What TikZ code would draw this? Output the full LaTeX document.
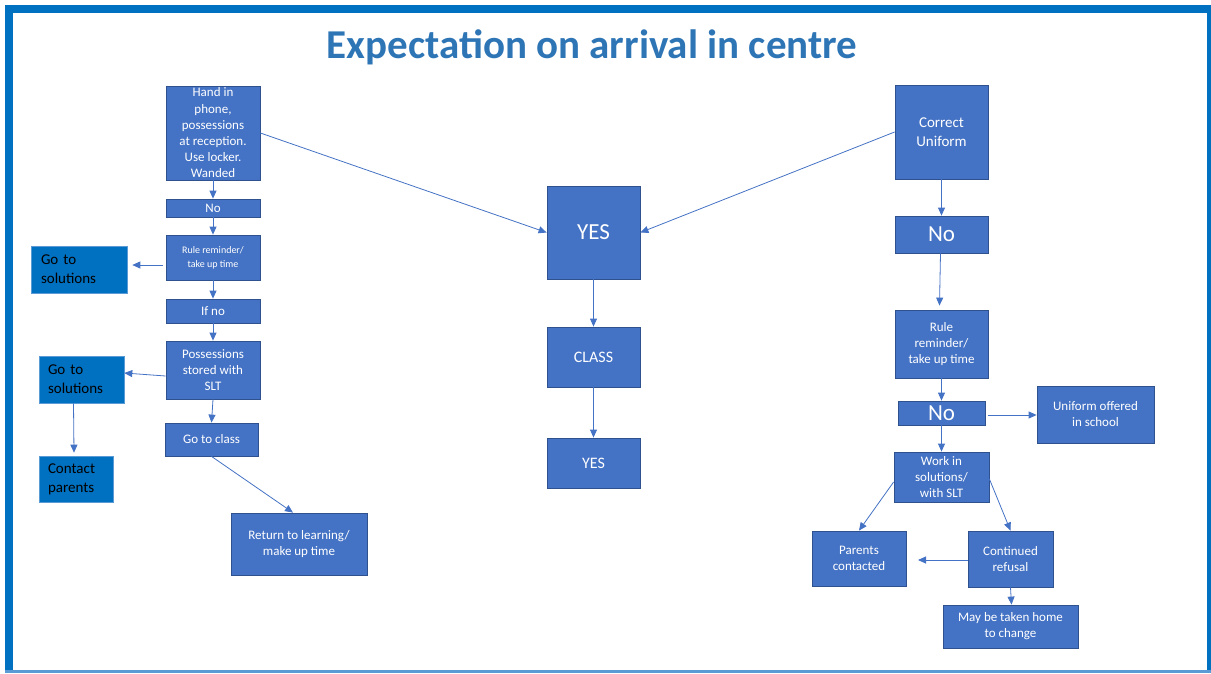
\documentclass[tikz,border=0pt]{standalone}
\usepackage{fontspec}
\setmainfont{Carlito}
\usetikzlibrary{arrows.meta}
\definecolor{boxblue}{HTML}{4472C4}
\definecolor{boxedge}{HTML}{2F528F}
\definecolor{darkblue}{HTML}{0070C0}
\definecolor{titleblue}{HTML}{2E75B6}
\definecolor{frameblue}{HTML}{0070C0}
\definecolor{lightedge}{HTML}{5B9BD5}
\newcommand\fsz[2]{\fontsize{#1pt}{#2pt}\selectfont}
\tikzset{
  box/.style={draw=boxedge, line width=0.8pt, fill=boxblue, text=white, inner sep=0pt, align=center},
  solbox/.style={draw=lightedge, line width=0.6pt, fill=darkblue, text=black, inner sep=0pt, align=left},
  conn/.style={draw=boxblue, line width=0.8pt, -{Triangle[length=8pt,width=7pt]}},
}
\begin{document}
\begin{tikzpicture}[x=1pt,y=-1pt]
\useasboundingbox (0,0) rectangle (1211,673);
% frame
\fill[frameblue] (5,5) rectangle (13,673);
\fill[frameblue] (5,5) rectangle (1211,13);
\fill[frameblue] (1207,5) rectangle (1211,673);
\fill[lightedge] (5,670) rectangle (1211,673);
% title
\node[text=titleblue, font=\fsz{41}{48}\bfseries] (title) at (592,47) {Expectation on arrival in centre};
% left column
\node[box, minimum width=94pt, minimum height=94pt, font=\fsz{13}{16.2}] (hand) at (213,133) {Hand in\\phone,\\possessions\\at reception.\\Use locker.\\Wanded};
\node[box, minimum width=94pt, minimum height=18pt, font=\fsz{13}{16}] (no1) at (213,208) {No};
\node[box, minimum width=94pt, minimum height=45pt, font=\fsz{10}{14}] (rule1) at (213,257.5) {Rule reminder/\\take up time};
\node[box, minimum width=94pt, minimum height=24pt, font=\fsz{13}{16}] (ifno) at (213,311) {If no};
\node[box, minimum width=94pt, minimum height=58pt, font=\fsz{13}{16}] (poss) at (213,370) {Possessions\\stored with\\SLT};
\node[box, minimum width=93pt, minimum height=33pt, font=\fsz{13}{16}] (goclass) at (211.5,439.5) {Go to class};
\node[box, minimum width=136pt, minimum height=62pt, font=\fsz{13}{16}] (ret) at (299,544) {Return to learning/\\make up time};
\node[solbox, minimum width=96pt, minimum height=47pt, text width=76pt, font=\fsz{15}{19}] (sol1) at (79,269.5) {Go to\\solutions};
\node[solbox, minimum width=85pt, minimum height=47pt, text width=67pt, font=\fsz{15}{19}] (sol2) at (81.5,379.5) {Go to\\solutions};
\node[solbox, minimum width=74pt, minimum height=46pt, text width=56pt, font=\fsz{15}{19}] (contact) at (76,479) {Contact\\parents};
% middle column
\node[box, minimum width=93pt, minimum height=93pt, font=\fsz{23}{26}] (yes1) at (593.5,232.5) {YES};
\node[box, minimum width=93pt, minimum height=60pt, font=\fsz{16}{19}] (class) at (593.5,357) {CLASS};
\node[box, minimum width=93pt, minimum height=50pt, font=\fsz{16}{19}] (yes2) at (593.5,463) {YES};
% right column
\node[box, minimum width=93pt, minimum height=94pt, font=\fsz{15}{19}] (cu) at (941.5,132) {Correct\\Uniform};
\node[box, minimum width=93pt, minimum height=37pt, font=\fsz{23}{26}] (no2) at (941.5,234.5) {No};
\node[box, minimum width=93pt, minimum height=68pt, font=\fsz{13}{16}] (rule2) at (941.5,344) {Rule\\reminder/\\take up time};
\node[box, minimum width=87pt, minimum height=24pt, font=\fsz{23}{26}] (no3) at (941.5,413) {No};
\node[box, minimum width=117pt, minimum height=57pt, font=\fsz{13}{16}] (uni) at (1095.5,414.5) {Uniform offered\\in school};
\node[box, minimum width=95pt, minimum height=50pt, font=\fsz{13}{16}] (work) at (941.5,477) {Work in\\solutions/\\with SLT};
\node[box, minimum width=94pt, minimum height=55pt, font=\fsz{13}{16}] (par) at (859,558.5) {Parents\\contacted};
\node[box, minimum width=85pt, minimum height=56pt, font=\fsz{13}{16}] (cont) at (1010.5,559) {Continued\\refusal};
\node[box, minimum width=135pt, minimum height=43pt, font=\fsz{13}{16}] (mbt) at (1010.5,626.5) {May be taken home\\to change};
\coordinate (parend) at (918,560);
% connectors left
\draw[conn] (hand.south) -- (no1.north);
\draw[conn] (no1.south) -- (rule1.north);
\draw[conn] ([xshift=-3pt,yshift=-7.5pt]rule1.west) -- ([xshift=5pt,yshift=4.5pt]sol1.east);
\draw[conn] (rule1.south) -- (ifno.north);
\draw[conn] (ifno.south) -- (poss.north);
\draw[conn] ([yshift=-6pt]poss.west) -- ([yshift=6.5pt]sol2.east);
\draw[conn] ([xshift=-8pt]sol2.south) -- ([xshift=-2pt,yshift=3pt]contact.north);
\draw[conn] (poss.south) -- (goclass.north);
\draw[conn] (goclass.south) -- ([xshift=-6pt]ret.north);
\draw[conn] (hand.east) -- (yes1.west);
% connectors middle
\draw[conn] (cu.west) -- (yes1.east);
\draw[conn] (yes1.south) -- (class.north);
\draw[conn] (class.south) -- (yes2.north);
% connectors right
\draw[conn] (cu.south) -- (no2.north);
\draw[conn] ([xshift=-1pt]no2.south) -- ([xshift=-2pt,yshift=4pt]rule2.north);
\draw[conn] (rule2.south) -- (no3.north);
\draw[conn] ([xshift=3pt,yshift=-2pt]no3.east) -- ([yshift=-0.5pt]uni.west);
\draw[conn] (no3.south) -- (work.north);
\draw[conn] ([yshift=-5pt]work.west) -- (par.north);
\draw[conn] ([yshift=-2pt]work.east) -- (cont.north);
\draw[conn] ([yshift=-1pt]cont.west) -- (parend);
\draw[conn] (cont.south) -- ([xshift=1pt]mbt.north);
\end{tikzpicture}
\end{document}
